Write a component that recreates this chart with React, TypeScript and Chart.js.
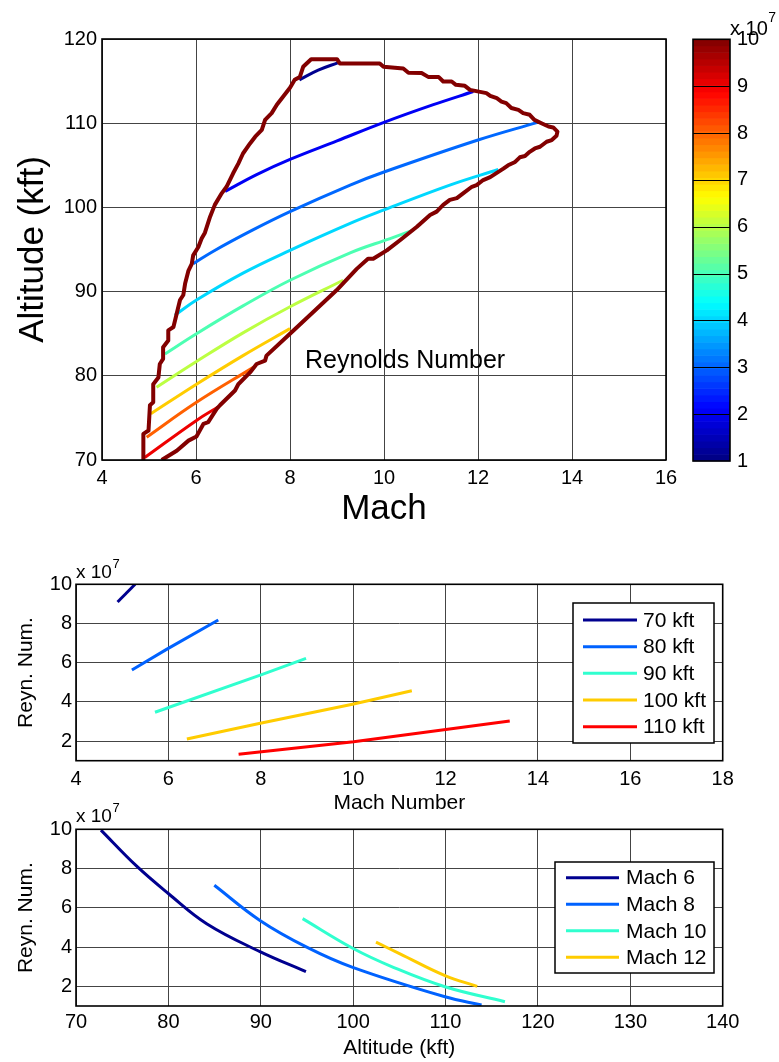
import React, { useEffect, useRef } from 'react';
import { Chart, registerables } from 'chart.js';

Chart.register(...registerables);

const FONT = '"Liberation Sans", Arial, Helvetica, sans-serif';

// ================= Top panel: Reynolds number contours (Mach vs altitude) =================
const topMachTicks = [4, 6, 8, 10, 12, 14, 16];
const topAltTicks = [70, 80, 90, 100, 110, 120];

// flight envelope outline [Mach, altitude kft]
const envelope: number[][] = [
  [4.88, 70.0], [4.88, 73.1], [4.99, 73.5], [5.02, 76.5], [5.09, 76.85], [5.09, 79.0], [5.2, 79.8],
  [5.23, 81.4], [5.3, 82.0], [5.3, 83.4], [5.41, 84.2], [5.41, 85.4], [5.52, 85.8], [5.59, 87.4],
  [5.66, 89.0], [5.73, 89.6], [5.77, 91.0], [5.84, 92.5], [5.91, 93.3], [5.94, 94.3], [6.05, 95.3],
  [6.12, 96.3], [6.19, 97.0], [6.3, 98.9], [6.4, 100.3], [6.55, 101.7], [6.65, 102.45], [6.79, 104.05],
  [6.9, 105.2], [7.0, 106.4], [7.15, 107.6], [7.26, 108.4], [7.4, 109.2], [7.47, 110.4], [7.61, 111.2],
  [7.72, 112.2], [7.86, 113.2], [8.0, 114.2], [8.1, 115.15], [8.21, 115.5], [8.28, 116.7], [8.45, 117.6],
  [9.0, 117.6], [9.06, 117.1], [9.91, 117.1], [9.99, 116.7], [10.41, 116.5], [10.52, 116.0], [10.8, 115.95],
  [10.94, 115.5], [11.16, 115.5], [11.26, 114.95], [11.44, 114.95], [11.53, 114.56], [11.72, 114.44],
  [11.83, 113.96], [12.18, 113.57], [12.26, 113.25], [12.4, 112.97], [12.5, 112.57], [12.6, 112.38],
  [12.71, 111.8], [12.86, 111.58], [12.96, 111.2], [13.1, 111.0], [13.2, 110.4], [13.35, 110.0],
  [13.5, 109.6], [13.6, 109.5], [13.69, 109.0], [13.67, 108.5], [13.57, 108.0], [13.46, 107.8],
  [13.32, 107.2], [13.21, 107.0], [13.1, 106.6], [13.0, 106.1], [12.89, 105.95], [12.79, 105.4],
  [12.64, 105.0], [12.54, 104.6], [12.4, 104.1], [12.26, 103.6], [12.11, 103.25], [11.97, 102.65],
  [11.87, 102.45], [11.69, 101.7], [11.55, 101.1], [11.4, 100.9], [11.26, 100.3], [11.12, 99.5],
  [10.98, 99.1], [10.7, 97.7], [10.34, 96.1], [10.06, 94.9], [9.77, 93.9], [9.66, 93.9], [9.42, 92.7],
  [8.99, 90.15], [8.0, 85.0], [7.5, 82.4], [7.47, 81.8], [7.29, 81.4], [7.15, 80.4], [6.9, 79.0],
  [6.83, 78.25], [6.51, 76.5], [6.44, 76.07], [6.26, 74.5], [6.16, 74.3], [6.01, 72.8], [5.84, 72.3],
  [5.59, 71.1], [5.27, 70.0],
];

// Reynolds number contour levels (x 10^7) and their lines [Mach, altitude kft]
const reLevels = [1, 2, 3, 4, 5, 6, 7, 8, 9];
const contourRe1 = [[8.2, 115.15], [8.6, 116.3], [9.03, 117.2]];
const contourRe2 = [[6.62, 101.9], [7.29, 103.9], [8.0, 105.7], [9.0, 107.9], [10.0, 110.1], [11.05, 112.2], [11.9, 113.76]];
const contourRe3 = [[5.94, 93.3], [6.37, 94.8], [7.2, 97.3], [8.0, 99.5], [9.28, 102.65], [10.0, 104.2], [12.0, 108.0], [13.25, 110.07]];
const contourRe4 = [[5.55, 87.2], [6.01, 89.0], [7.0, 92.2], [8.0, 94.9], [9.28, 98.1], [10.0, 99.7], [11.4, 102.65], [12.43, 104.5]];
const contourRe5 = [[5.34, 82.6], [6.01, 85.0], [7.0, 88.3], [8.0, 91.35], [9.28, 94.6], [10.13, 96.3], [10.62, 97.3]];
const contourRe6 = [[5.16, 78.65], [6.01, 81.7], [7.0, 85.1], [8.0, 88.2], [9.13, 91.35]];
const contourRe7 = [[5.04, 75.5], [6.01, 79.0], [7.0, 82.4], [8.0, 85.6]];
const contourRe8 = [[4.95, 72.7], [6.01, 76.85], [7.22, 81.0]];
const contourRe9 = [[4.91, 70.3], [6.01, 74.7], [6.47, 76.3]];
const contourLines = [contourRe1, contourRe2, contourRe3, contourRe4, contourRe5, contourRe6, contourRe7, contourRe8, contourRe9];
const contourColors = ['#00008F', '#0000F5', '#0068FF', '#00D8FF', '#4CFFB2', '#BCFF42', '#FFCC00', '#FF6000', '#EE0000'];
const envelopeColor = '#820000';

const colorbarTicks = [1, 2, 3, 4, 5, 6, 7, 8, 9, 10];
const annotationText = 'Reynolds Number';
const annotationAt = [8.32, 80.95];

// ================= Middle panel: Reynolds number vs Mach at fixed altitude =================
const midMachTicks = [4, 6, 8, 10, 12, 14, 16, 18];
const reTicks = [2, 4, 6, 8, 10]; // x 10^7
const altitudeLabels = ['70 kft', '80 kft', '90 kft', '100 kft', '110 kft'];
const re70kft = [[4.9, 9.1], [5.28, 10.0]];
const re80kft = [[5.21, 5.63], [5.96, 6.68], [7.08, 8.18]];
const re90kft = [[5.71, 3.47], [7.99, 5.37], [8.98, 6.22]];
const re100kft = [[6.4, 2.11], [7.99, 2.91], [10.01, 3.89], [11.27, 4.57]];
const re110kft = [[7.52, 1.33], [10.01, 1.97], [13.39, 3.03]];
const altitudeSeries = [re70kft, re80kft, re90kft, re100kft, re110kft];
const altitudeColors = ['#00008F', '#0062FF', '#30FFCF', '#FFCC00', '#FF0000'];

// ================= Bottom panel: Reynolds number vs altitude at fixed Mach =================
const altTicks = [70, 80, 90, 100, 110, 120, 130, 140];
const machLabels = ['Mach 6', 'Mach 8', 'Mach 10', 'Mach 12'];
const reMach6 = [[72.7, 9.96], [76.57, 8.12], [79.99, 6.73], [84.14, 5.19], [89.91, 3.77], [94.89, 2.75]];
const reMach8 = [[84.97, 7.15], [89.91, 5.36], [94.97, 4.0], [99.95, 2.97], [109.94, 1.47], [113.9, 1.05]];
const reMach10 = [[94.53, 5.45], [99.95, 3.94], [104.35, 2.97], [109.94, 1.98], [116.43, 1.22]];
const reMach12 = [[102.47, 4.25], [105.07, 3.66], [109.94, 2.55], [113.43, 2.0]];
const machSeries = [reMach6, reMach8, reMach10, reMach12];
const machColors = ['#00008F', '#0062FF', '#30FFCF', '#FFCC00'];

// ================= helpers =================
const toXY = (pts: number[][]) => pts.map(([x, y]) => ({ x, y }));
const font = (size: number) => ({ family: FONT, size });
const fixTicks = (values: number[]) => (scale: any) => {
  scale.ticks = values.map((v) => ({ value: v }));
};
const gridOpts = { color: '#444444', lineWidth: 1, drawTicks: false };

function jet(t: number) {
  const c = (v: number) => Math.round(255 * Math.max(0, Math.min(1, v)));
  return `rgb(${c(1.5 - Math.abs(4 * t - 3))},${c(1.5 - Math.abs(4 * t - 2))},${c(1.5 - Math.abs(4 * t - 1))})`;
}

const framePlugin = {
  id: 'frame',
  afterDatasetsDraw(chart: any) {
    const { ctx, chartArea: a } = chart;
    ctx.save();
    ctx.strokeStyle = '#000';
    ctx.lineWidth = 1.6;
    ctx.strokeRect(a.left, a.top, a.right - a.left, a.bottom - a.top);
    ctx.restore();
  },
};

function exponentPlugin(x: number, y: number, size: number, supSize: number, supRise: number) {
  return {
    id: 'exponent',
    afterDraw(chart: any) {
      const ctx = chart.ctx;
      ctx.save();
      ctx.fillStyle = '#000';
      ctx.textAlign = 'left';
      ctx.textBaseline = 'alphabetic';
      ctx.font = `${size}px ${FONT}`;
      ctx.fillText('x 10', x, y);
      const w = ctx.measureText('x 10').width;
      ctx.font = `${supSize}px ${FONT}`;
      ctx.fillText('7', x + w + 0.5, y - supRise);
      ctx.restore();
    },
  };
}

function legendPlugin(box: number[], rowY0: number, rowStep: number, lineX0: number, lineX1: number, textX: number, size: number) {
  return {
    id: 'boxLegend',
    afterDraw(chart: any) {
      const ctx = chart.ctx;
      ctx.save();
      ctx.fillStyle = '#fff';
      ctx.fillRect(box[0], box[1], box[2], box[3]);
      ctx.strokeStyle = '#000';
      ctx.lineWidth = 1.5;
      ctx.strokeRect(box[0], box[1], box[2], box[3]);
      ctx.font = `${size}px ${FONT}`;
      ctx.textAlign = 'left';
      ctx.textBaseline = 'middle';
      chart.data.datasets.forEach((ds: any, i: number) => {
        const y = rowY0 + i * rowStep;
        ctx.strokeStyle = ds.borderColor;
        ctx.lineWidth = 3;
        ctx.beginPath();
        ctx.moveTo(lineX0, y);
        ctx.lineTo(lineX1, y);
        ctx.stroke();
        ctx.fillStyle = '#000';
        ctx.fillText(ds.label, textX, y + 1);
      });
      ctx.restore();
    },
  };
}

const annotationPlugin = {
  id: 'annotation',
  afterDatasetsDraw(chart: any) {
    const { ctx, scales } = chart;
    ctx.save();
    ctx.fillStyle = '#000';
    ctx.font = `25px ${FONT}`;
    ctx.textAlign = 'left';
    ctx.textBaseline = 'alphabetic';
    ctx.fillText(annotationText, scales.x.getPixelForValue(annotationAt[0]), scales.y.getPixelForValue(annotationAt[1]));
    ctx.restore();
  },
};

const colorbarPlugin = {
  id: 'colorbar',
  beforeDatasetsDraw(chart: any) {
    const { ctx, chartArea: a, scales } = chart;
    const y = scales.y;
    const lo = colorbarTicks[0];
    const hi = colorbarTicks[colorbarTicks.length - 1];
    const n = 64;
    ctx.save();
    for (let i = 0; i < n; i++) {
      const v0 = lo + ((hi - lo) * i) / n;
      const v1 = lo + ((hi - lo) * (i + 1)) / n;
      const p0 = y.getPixelForValue(v0);
      const p1 = y.getPixelForValue(v1);
      ctx.fillStyle = jet((i + 0.5) / n);
      ctx.fillRect(a.left, p1 - 0.3, a.right - a.left, p0 - p1 + 0.6);
    }
    ctx.strokeStyle = '#000';
    ctx.lineWidth = 1;
    colorbarTicks.slice(1, -1).forEach((v) => {
      const p = Math.round(y.getPixelForValue(v)) + 0.5;
      ctx.beginPath();
      ctx.moveTo(a.left, p);
      ctx.lineTo(a.right, p);
      ctx.stroke();
    });
    ctx.lineWidth = 1.6;
    ctx.strokeRect(a.left, a.top, a.right - a.left, a.bottom - a.top);
    ctx.restore();
  },
};

function lineDataset(label: string, pts: number[][], color: string, width: number, tension: number) {
  return {
    label,
    data: toXY(pts),
    borderColor: color,
    backgroundColor: color,
    borderWidth: width,
    showLine: true,
    pointRadius: 0,
    pointHoverRadius: 0,
    fill: false,
    tension,
    borderJoinStyle: 'round',
    borderCapStyle: 'butt',
  };
}

function topConfig(): any {
  return {
    type: 'scatter',
    data: {
      datasets: [
        lineDataset('envelope', envelope, envelopeColor, 4, 0),
        ...contourLines.map((c, i) => lineDataset(`${reLevels[i]}e7`, c, contourColors[i], 3, 0.4)),
      ],
    },
    options: {
      responsive: false,
      animation: false,
      events: [],
      layout: { padding: { left: 0, right: 24, top: 39, bottom: 0 } },
      plugins: { legend: { display: false }, tooltip: { enabled: false } },
      scales: {
        x: {
          type: 'linear', min: 4, max: 16,
          afterBuildTicks: fixTicks(topMachTicks),
          afterFit: (s: any) => { s.height = 70; },
          grid: gridOpts, border: { display: false },
          ticks: { font: font(20), color: '#000', padding: 6, maxRotation: 0, autoSkip: false },
          title: { display: true, text: 'Mach', font: font(35), color: '#000', padding: { top: 0, bottom: 0 } },
        },
        y: {
          type: 'linear', min: 70, max: 120,
          afterBuildTicks: fixTicks(topAltTicks),
          afterFit: (s: any) => { s.width = 102; },
          grid: gridOpts, border: { display: false },
          ticks: { font: font(20), color: '#000', padding: 5, autoSkip: false },
          title: { display: true, text: 'Altitude (kft)', font: font(35), color: '#000', padding: { top: 12.5, bottom: 0 } },
        },
      },
    },
    plugins: [framePlugin, annotationPlugin],
  };
}

function colorbarConfig(): any {
  return {
    type: 'scatter',
    data: { datasets: [] },
    options: {
      responsive: false,
      animation: false,
      events: [],
      layout: { padding: { left: 13, right: 0, top: 39.3, bottom: 69 } },
      plugins: { legend: { display: false }, tooltip: { enabled: false } },
      scales: {
        x: { type: 'linear', display: false, min: 0, max: 1 },
        y: {
          type: 'linear', position: 'right', min: colorbarTicks[0], max: colorbarTicks[colorbarTicks.length - 1],
          afterBuildTicks: fixTicks(colorbarTicks),
          afterFit: (s: any) => { s.width = 49; },
          grid: { display: false, drawTicks: false }, border: { display: false },
          ticks: { font: font(20), color: '#000', padding: 7, autoSkip: false },
        },
      },
    },
    plugins: [colorbarPlugin, exponentPlugin(50, 35, 20, 14, 13)],
  };
}

function midConfig(): any {
  return {
    type: 'scatter',
    data: {
      datasets: altitudeSeries.map((s, i) => lineDataset(altitudeLabels[i], s, altitudeColors[i], 3, 0)),
    },
    options: {
      responsive: false,
      animation: false,
      events: [],
      layout: { padding: { left: 0, right: 56.3, top: 44.3, bottom: 0 } },
      plugins: { legend: { display: false }, tooltip: { enabled: false } },
      scales: {
        x: {
          type: 'linear', min: 4, max: 18,
          afterBuildTicks: fixTicks(midMachTicks),
          afterFit: (s: any) => { s.height = 55.3; },
          grid: gridOpts, border: { display: false },
          ticks: { font: font(20), color: '#000', padding: 7, maxRotation: 0, autoSkip: false },
          title: { display: true, text: 'Mach Number', font: font(21), color: '#000', padding: { top: 0, bottom: 0 } },
        },
        y: {
          type: 'linear', min: 1, max: 10,
          afterBuildTicks: fixTicks(reTicks),
          afterFit: (s: any) => { s.width = 76; },
          grid: gridOpts, border: { display: false },
          ticks: { font: font(20), color: '#000', padding: 4, autoSkip: false },
          title: { display: true, text: 'Reyn. Num.', font: font(21), color: '#000', padding: { top: 13.4, bottom: 0 } },
        },
      },
    },
    plugins: [framePlugin, exponentPlugin(76, 38, 19, 13, 10), legendPlugin([573, 63, 141, 140], 80, 26.67, 583, 637, 643, 21)],
  };
}

function bottomConfig(): any {
  return {
    type: 'scatter',
    data: {
      datasets: machSeries.map((s, i) => lineDataset(machLabels[i], s, machColors[i], 3, 0.4)),
    },
    options: {
      responsive: false,
      animation: false,
      events: [],
      layout: { padding: { left: 0, right: 56.3, top: 39.3, bottom: 0 } },
      plugins: { legend: { display: false }, tooltip: { enabled: false } },
      scales: {
        x: {
          type: 'linear', min: 70, max: 140,
          afterBuildTicks: fixTicks(altTicks),
          afterFit: (s: any) => { s.height = 56; },
          grid: gridOpts, border: { display: false },
          ticks: { font: font(20), color: '#000', padding: 4.5, maxRotation: 0, autoSkip: false },
          title: { display: true, text: 'Altitude (kft)', font: font(21), color: '#000', padding: { top: 0, bottom: 1 } },
        },
        y: {
          type: 'linear', min: 1, max: 10,
          afterBuildTicks: fixTicks(reTicks),
          afterFit: (s: any) => { s.width = 76; },
          grid: gridOpts, border: { display: false },
          ticks: { font: font(20), color: '#000', padding: 4, autoSkip: false },
          title: { display: true, text: 'Reyn. Num.', font: font(21), color: '#000', padding: { top: 13.4, bottom: 0 } },
        },
      },
    },
    plugins: [framePlugin, exponentPlugin(76, 31.7, 19, 13, 10), legendPlugin([555, 72, 159, 111], 87.7, 26.55, 566, 619, 626, 21)],
  };
}

export default function App() {
  const topRef = useRef<HTMLCanvasElement>(null);
  const cbRef = useRef<HTMLCanvasElement>(null);
  const midRef = useRef<HTMLCanvasElement>(null);
  const botRef = useRef<HTMLCanvasElement>(null);

  useEffect(() => {
    Chart.defaults.font.family = FONT;
    Chart.defaults.color = '#000';
    const charts = [
      new Chart(topRef.current as HTMLCanvasElement, topConfig()),
      new Chart(cbRef.current as HTMLCanvasElement, colorbarConfig()),
      new Chart(midRef.current as HTMLCanvasElement, midConfig()),
      new Chart(botRef.current as HTMLCanvasElement, bottomConfig()),
    ];
    return () => charts.forEach((c) => c.destroy());
  }, []);

  const abs = (left: number, top: number): React.CSSProperties => ({ position: 'absolute', left, top, display: 'block' });

  return (
    <div style={{ position: 'absolute', left: 0, top: 0, width: 779, height: 1062, background: '#fff', overflow: 'hidden' }}>
      <canvas ref={topRef} width={690} height={530} style={abs(0, 0)} />
      <canvas ref={cbRef} width={99} height={530} style={abs(680, 0)} />
      <canvas ref={midRef} width={779} height={276} style={abs(0, 540)} />
      <canvas ref={botRef} width={779} height={272} style={abs(0, 790)} />
    </div>
  );
}
